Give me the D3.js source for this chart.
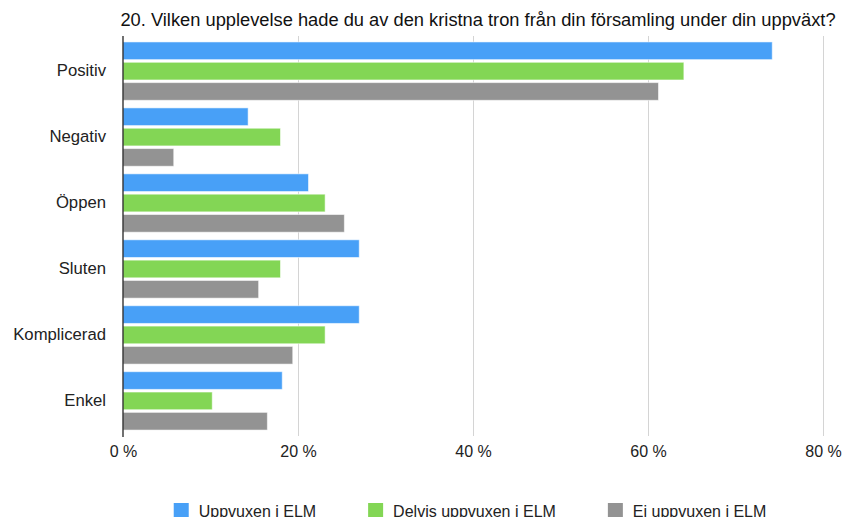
<!DOCTYPE html>
<html>
<head>
<meta charset="utf-8">
<title>Upplevelse av den kristna tron</title>
<script src="https://cdn.jsdelivr.net/npm/d3@7"></script>
<style>
  body { margin: 0; background: #fff; font-family: "Liberation Sans", Arial, sans-serif; }
  .axis path { display: none; }
  .axis text { font-size: 16px; fill: #222; font-family: "Liberation Sans", Arial, sans-serif; }
  .yaxis text { font-size: 16.7px; }
  .grid line { stroke: #d4d4d4; }
</style>
</head>
<body>
<div id="chart"></div>
<script>
var categories = ["Positiv", "Negativ", "Öppen", "Sluten", "Komplicerad", "Enkel"];
var seriesNames = ["Uppvuxen i ELM", "Delvis uppvuxen i ELM", "Ej uppvuxen i ELM"];
var uppvuxen = [74.2, 14.3, 21.2, 27.0, 27.0, 18.2];
var delvis = [64.1, 18.0, 23.1, 18.0, 23.1, 10.2];
var ej = [61.2, 5.8, 25.3, 15.5, 19.4, 16.5];
var tickValues = [0, 20, 40, 60, 80];
var colors = ["#48a0f7", "#83d655", "#939393"];

var width = 844, height = 517;
var plotLeft = 123, plotRight = 823, plotTop = 36, plotBottom = 436;

var svg = d3.select("#chart").append("svg")
    .attr("width", width)
    .attr("height", height);

var x = d3.scaleLinear().domain([0, 80]).range([plotLeft, plotRight]);

var y = d3.scaleBand()
    .domain(categories)
    .range([plotTop, plotBottom])
    .paddingInner(0.115)
    .paddingOuter(0.09);

var ySub = d3.scaleBand()
    .domain(seriesNames)
    .range([0, y.bandwidth()])
    .paddingInner(0.13);

var values = [uppvuxen, delvis, ej];

// grid
svg.append("g")
    .attr("class", "grid")
    .attr("transform", "translate(0," + plotBottom + ")")
    .call(d3.axisBottom(x).tickValues(tickValues.slice(1)).tickSize(-(plotBottom - plotTop)).tickFormat(""))
    .select(".domain").remove();

// bars
var groups = svg.selectAll(".cat")
    .data(categories)
    .enter().append("g")
    .attr("class", "cat")
    .attr("transform", function (d) { return "translate(0," + y(d) + ")"; });

groups.selectAll("rect")
    .data(function (d, i) {
        return seriesNames.map(function (s, j) { return { s: s, v: values[j][i], c: colors[j] }; });
    })
    .enter().append("rect")
    .attr("x", x(0))
    .attr("y", function (d) { return ySub(d.s); })
    .attr("height", ySub.bandwidth())
    .attr("width", function (d) { return x(d.v) - x(0); })
    .attr("fill", function (d) { return d.c; })
    .attr("stroke", "rgba(255,255,255,0.55)")
    .attr("stroke-width", 1);

// axis line
svg.append("line")
    .attr("x1", x(0)).attr("x2", x(0))
    .attr("y1", plotTop).attr("y2", plotBottom + 1)
    .attr("stroke", "#111")
    .attr("stroke-width", 1.2);

// x axis labels
svg.append("g")
    .attr("class", "axis")
    .attr("transform", "translate(0," + plotBottom + ")")
    .call(d3.axisBottom(x).tickValues(tickValues).tickSize(0).tickPadding(10)
        .tickFormat(function (d) { return d + " %"; }));

// y axis labels
svg.append("g")
    .attr("class", "axis yaxis")
    .attr("transform", "translate(" + (plotLeft - 17) + ",0)")
    .call(d3.axisLeft(y).tickSize(0).tickPadding(0));

// title
svg.append("text")
    .attr("x", 478)
    .attr("y", 26)
    .attr("text-anchor", "middle")
    .style("font-size", "18.3px")
    .style("fill", "#111")
    .text("20. Vilken upplevelse hade du av den kristna tron från din församling under din uppväxt?");

// legend
var legend = svg.append("g").attr("class", "legend");
var lx = 0;
seriesNames.forEach(function (s, i) {
    var item = legend.append("g").attr("transform", "translate(" + lx + ",0)");
    item.append("rect")
        .attr("x", 0).attr("y", 503)
        .attr("width", 15).attr("height", 15)
        .attr("fill", colors[i]);
    var t = item.append("text")
        .attr("x", 25).attr("y", 517)
        .style("font-size", "16px")
        .style("fill", "#222")
        .text(s);
    lx += 25 + t.node().getComputedTextLength() + 52;
});
var lw = lx - 52;
legend.attr("transform", "translate(" + (470 - lw / 2) + ",0)");
</script>
</body>
</html>
